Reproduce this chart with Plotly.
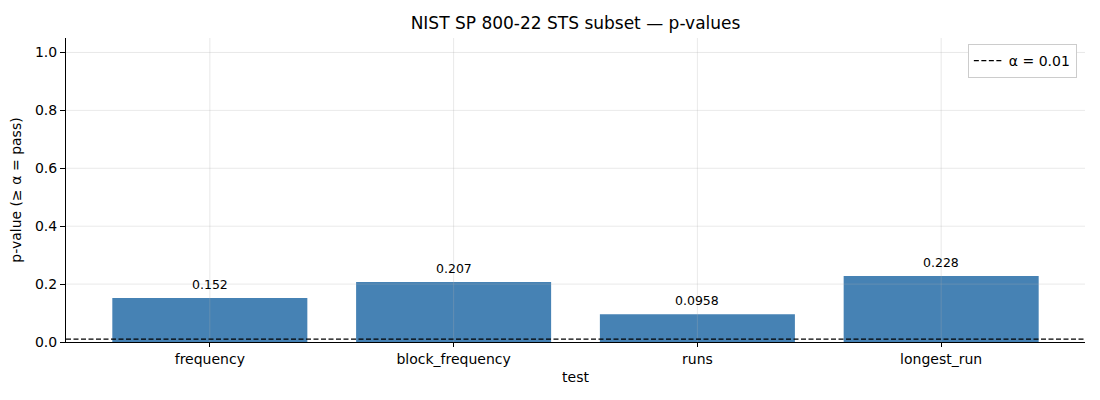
import plotly.graph_objects as go

tests = ["frequency", "block_frequency", "runs", "longest_run"]
p_values = [0.152, 0.207, 0.0958, 0.228]
p_labels = ["0.152", "0.207", "0.0958", "0.228"]
alpha = 0.01
y_ticks = [0.0, 0.2, 0.4, 0.6, 0.8, 1.0]

fig = go.Figure()

fig.add_trace(
    go.Bar(
        x=tests,
        y=p_values,
        width=0.8,
        marker=dict(color="#4682b4", line=dict(width=0)),
        showlegend=False,
    )
)

# value labels above bars
for name, val, lab in zip(tests, p_values, p_labels):
    fig.add_annotation(x=name, y=val, text=lab, showarrow=False,
                       yanchor="bottom", yshift=4, font=dict(size=12.5, color="black"))

# legend entry for threshold line
fig.add_trace(
    go.Scatter(
        x=[None], y=[None], mode="lines",
        line=dict(color="black", dash="5px,2.5px", width=1.2),
        name="α = 0.01",
    )
)

# grid drawn above the bars, like the reference
for t in y_ticks[1:]:
    fig.add_shape(type="line", xref="paper", x0=0, x1=1, y0=t, y1=t,
                  line=dict(color="rgba(176,176,176,0.35)", width=0.8), layer="above")
for i in range(len(tests)):
    fig.add_shape(type="line", x0=i, x1=i, yref="paper", y0=0, y1=1,
                  line=dict(color="rgba(176,176,176,0.35)", width=0.8), layer="above")

fig.add_shape(type="line", xref="paper", x0=0, x1=1, y0=alpha, y1=alpha,
              line=dict(color="black", dash="5px,2.5px", width=1.2), layer="above")

fig.update_layout(
    width=1100,
    height=400,
    margin=dict(l=58, r=23, t=30, b=66),
    plot_bgcolor="white",
    paper_bgcolor="white",
    font=dict(family="DejaVu Sans", size=14, color="black"),
    title=dict(text="NIST SP 800-22 STS subset — p-values", x=0.5, xanchor="center",
               xref="paper", y=0.947, yanchor="bottom", font=dict(size=17)),
    bargap=0.2,
    legend=dict(x=0.992, y=0.98, xanchor="right", yanchor="top",
                bordercolor="#cccccc", borderwidth=1, bgcolor="white",
                font=dict(size=14)),
    xaxis=dict(
        title=dict(text="test", font=dict(size=14), standoff=6),
        range=[-0.59, 3.59],
        showgrid=False, automargin=False,
        showline=True, linecolor="black", linewidth=1,
        ticks="outside", ticklen=4, tickcolor="black",
    ),
    yaxis=dict(
        title=dict(text="p-value (≥ α = pass)", font=dict(size=14), standoff=10),
        range=[0, 1.05],
        tickvals=y_ticks,
        ticktext=[f"{v:.1f}" for v in y_ticks],
        showgrid=False, zeroline=False, automargin=False,
        showline=True, linecolor="black", linewidth=1,
        ticks="outside", ticklen=5, tickcolor="black",
    ),
)

fig.write_html("out.html")
